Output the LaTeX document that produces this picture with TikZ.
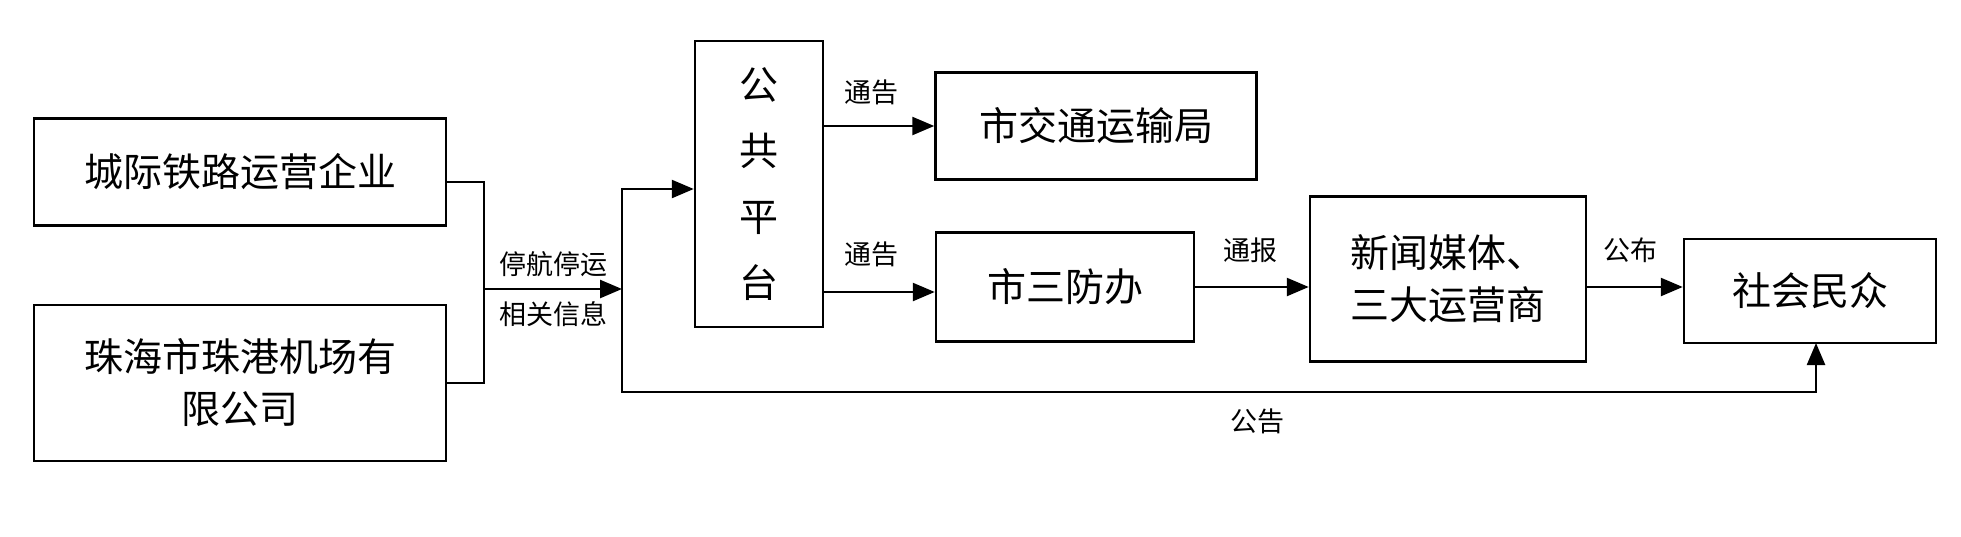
\documentclass[tikz,border=0pt]{standalone}
\usepackage{fontspec}
\setmainfont{Noto Sans CJK SC}
\usetikzlibrary{arrows.meta}
\begin{document}
\begin{tikzpicture}[x=1pt,y=-1pt,
  bx/.style={draw,line width=2.5pt,inner sep=0pt,font=\fontsize{39}{52}\selectfont,align=center},
  ln/.style={line width=2.5pt},
  ar/.style={ln,-{Triangle[length=22pt,width=18pt]}},
  lb/.style={font=\fontsize{27}{30}\selectfont}]
\useasboundingbox (0,0) rectangle (1961,536);
\node[bx,minimum width=412pt,minimum height=107pt] (a) at (240,172) {城际铁路运营企业};
\node[bx,minimum width=412pt,minimum height=156pt] (b) at (240,383) {珠海市珠港机场有\\限公司};
\node[bx,minimum width=128pt,minimum height=286pt,font=\fontsize{39}{66}\selectfont] (p) at (759,184) {公\\共\\平\\台};
\node[bx,minimum width=321pt,minimum height=107pt] (c) at (1096,126) {市交通运输局};
\node[bx,minimum width=258pt,minimum height=109pt] (d) at (1065,287) {市三防办};
\node[bx,minimum width=276pt,minimum height=165pt] (e) at (1448,279) {新闻媒体、\\三大运营商};
\node[bx,minimum width=252pt,minimum height=104pt] (f) at (1810,291) {社会民众};
\coordinate (j) at (484,289);
\coordinate (k) at (622,289);
\draw[ln] (a.east|-0,182) -| (j) |- (b.east|-0,383);
\draw[ar] (j) -- (k);
\node[lb,above] (l1) at (553,280) {停航停运};
\node[lb,below] (l2) at (553,298) {相关信息};
\draw[ar] (k) |- (p.west|-0,189);
\draw[ar] (k) |- (1816,392) -- (1816,343);
\node[lb] (l3) at (1257,421) {公告};
\draw[ar] (p.east|-0,126) -- (c.west|-0,126);
\node[lb,above] (l4) at (871,108) {通告};
\draw[ar] (p.east|-0,292) -- (d.west|-0,292);
\node[lb,above] (l5) at (871,270) {通告};
\draw[ar] (d.east|-0,287) -- (e.west|-0,287);
\node[lb,above] (l6) at (1250,266) {通报};
\draw[ar] (e.east|-0,287) -- (f.west|-0,287);
\node[lb,above] (l7) at (1630,266) {公布};
\end{tikzpicture}
\end{document}
